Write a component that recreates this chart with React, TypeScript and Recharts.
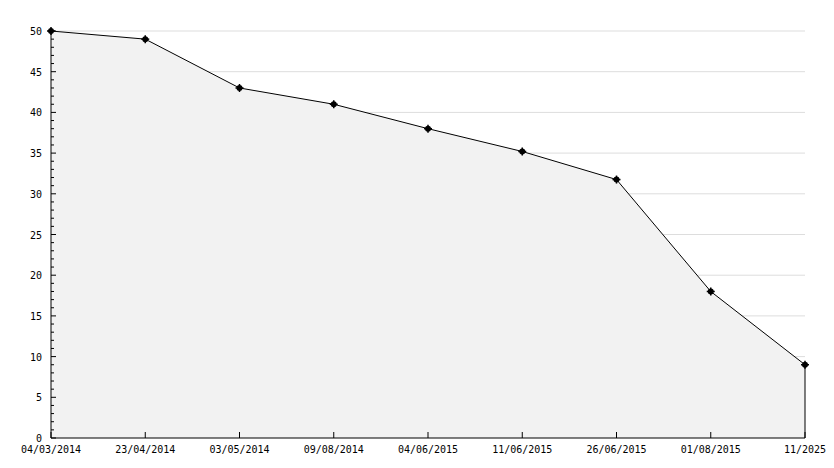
import { AreaChart, Area, XAxis, YAxis, CartesianGrid, ReferenceLine } from "recharts";

const dates = [
  "04/03/2014",
  "23/04/2014",
  "03/05/2014",
  "09/08/2014",
  "04/06/2015",
  "11/06/2015",
  "26/06/2015",
  "01/08/2015",
  "11/2025",
];
const values = [50, 49, 43, 41, 38, 35.2, 31.75, 18, 9];
const majorTicks = [0, 5, 10, 15, 20, 25, 30, 35, 40, 45, 50];
// one minor tick per unit between the labelled ones
const allTicks = majorTicks.flatMap((t, i) => (i === 0 ? [t] : [t - 4, t - 3, t - 2, t - 1, t]));

const data = dates.map((d, i) => ({ date: d, value: values[i] }));

const FONT = "'DejaVu Sans Mono', monospace";

function XTick(props: any) {
  const { x, y, payload } = props;
  return (
    <g>
      <line x1={x} x2={x} y1={y - 6} y2={y} stroke="#000" />
      <text x={x} y={y + 15} textAnchor="middle" fontSize={10} fontFamily={FONT} fill="#000">
        {payload.value}
      </text>
    </g>
  );
}

function YTick(props: any) {
  const { x, y, payload } = props;
  const major = payload.value % 5 === 0;
  return (
    <g>
      <line x1={x} x2={x + (major ? 5 : 3)} y1={y} y2={y} stroke="#000" />
      {major && (
        <text x={x - 9} y={y + 4} textAnchor="end" fontSize={10} fontFamily={FONT} fill="#000">
          {payload.value}
        </text>
      )}
    </g>
  );
}

function Marker(props: any) {
  const { cx, cy, index } = props;
  return (
    <g key={`m-${index}`}>
      <circle cx={cx} cy={cy} r={3} fill="#000" />
      <line x1={cx - 4} x2={cx + 4} y1={cy} y2={cy} stroke="#000" strokeWidth={1.5} />
      <line x1={cx} x2={cx} y1={cy - 4} y2={cy + 4} stroke="#000" strokeWidth={1.5} />
    </g>
  );
}

export default function App() {
  return (
    <AreaChart width={826} height={460} data={data} margin={{ top: 23, right: 29, left: 0, bottom: 0 }}>
      <CartesianGrid vertical={false} stroke="#dddddd" horizontalValues={majorTicks.slice(1)} />
      <YAxis
        domain={[0, 50]}
        ticks={allTicks}
        interval={0}
        width={43}
        tickSize={0}
        tickMargin={0}
        tickLine={false}
        axisLine={{ stroke: "#000" }}
        tick={<YTick />}
      />
      <Area
        type="linear"
        dataKey="value"
        stroke="#000"
        strokeWidth={1}
        fill="#f2f2f2"
        fillOpacity={1}
        dot={Marker}
        activeDot={false}
        isAnimationActive={false}
      />
      <ReferenceLine
        segment={[
          { x: dates[dates.length - 1], y: 0 },
          { x: dates[dates.length - 1], y: values[values.length - 1] },
        ]}
        stroke="#000"
      />
      <XAxis
        dataKey="date"
        interval={0}
        height={30}
        tickSize={0}
        tickMargin={0}
        tickLine={false}
        axisLine={{ stroke: "#000" }}
        tick={<XTick />}
      />
    </AreaChart>
  );
}
